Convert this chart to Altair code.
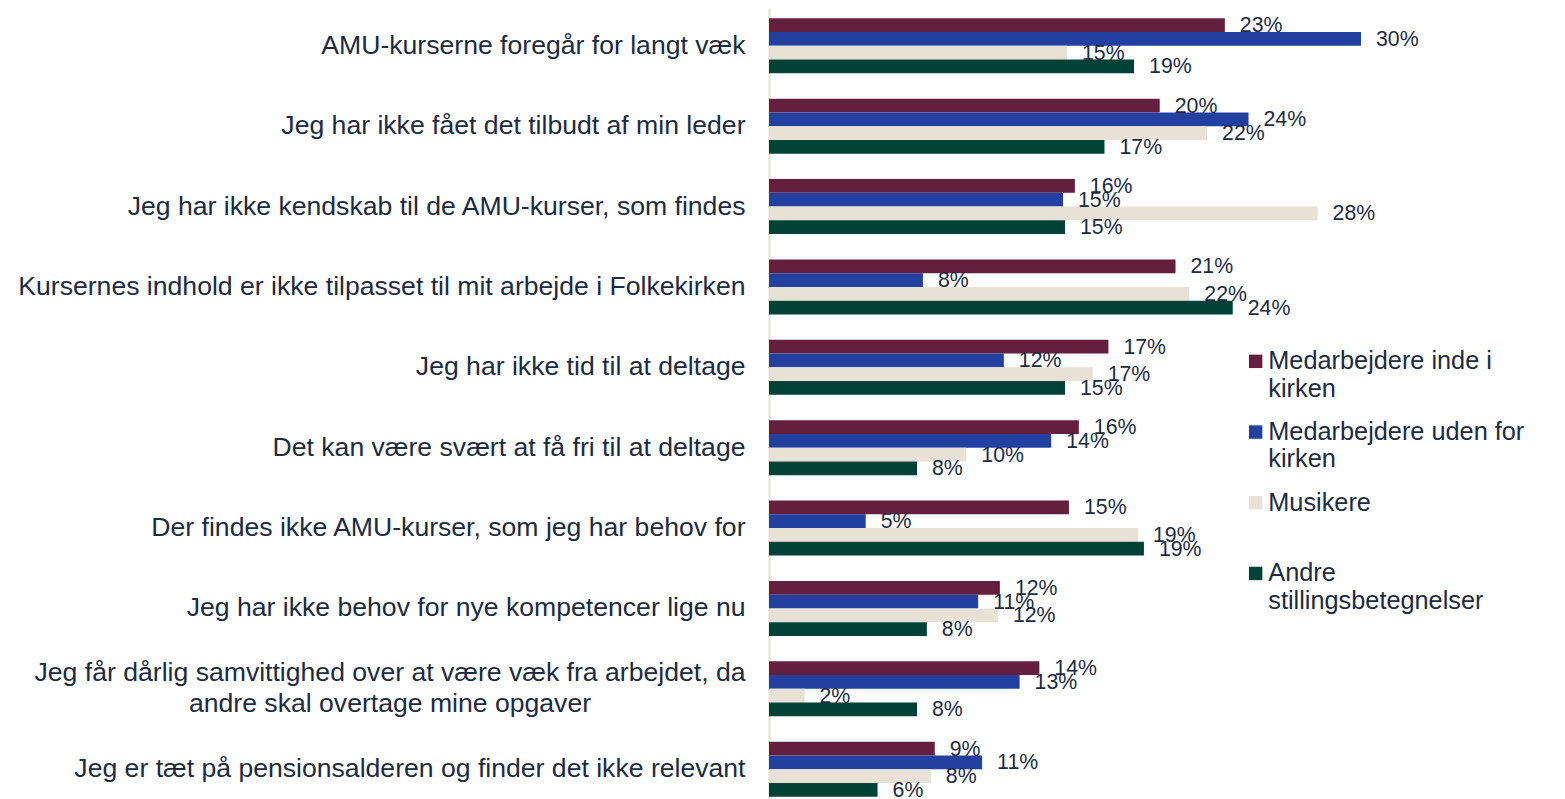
import altair as alt
import pandas as pd

categories = [
    "AMU-kurserne foregår for langt væk",
    "Jeg har ikke fået det tilbudt af min leder",
    "Jeg har ikke kendskab til de AMU-kurser, som findes",
    "Kursernes indhold er ikke tilpasset til mit arbejde i Folkekirken",
    "Jeg har ikke tid til at deltage",
    "Det kan være svært at få fri til at deltage",
    "Der findes ikke AMU-kurser, som jeg har behov for",
    "Jeg har ikke behov for nye kompetencer lige nu",
    "Jeg får dårlig samvittighed over at være væk fra arbejdet, da\nandre skal overtage mine opgaver",
    "Jeg er tæt på pensionsalderen og finder det ikke relevant",
]

series = [
    "Medarbejdere inde i\nkirken",
    "Medarbejdere uden for\nkirken",
    "Musikere",
    "Andre\nstillingsbetegnelser",
]
colors = ["#641F3C", "#233FA0", "#E8E1D6", "#004236"]

# bar lengths (percent)
inde_values = [23.1, 19.8, 15.5, 20.6, 17.2, 15.7, 15.2, 11.7, 13.7, 8.4]
uden_values = [30.0, 24.3, 14.9, 7.8, 11.9, 14.3, 4.9, 10.6, 12.7, 10.8]
musik_values = [15.1, 22.2, 27.8, 21.3, 16.4, 10.0, 18.7, 11.6, 1.8, 8.2]
andre_values = [18.5, 17.0, 15.0, 23.5, 15.0, 7.5, 19.0, 8.0, 7.5, 5.5]

# printed data labels
inde_labels = [23, 20, 16, 21, 17, 16, 15, 12, 14, 9]
uden_labels = [30, 24, 15, 8, 12, 14, 5, 11, 13, 11]
musik_labels = [15, 22, 28, 22, 17, 10, 19, 12, 2, 8]
andre_labels = [19, 17, 15, 24, 15, 8, 19, 8, 8, 6]

all_values = [inde_values, uden_values, musik_values, andre_values]
all_labels = [inde_labels, uden_labels, musik_labels, andre_labels]

rows = []
for i, cat in enumerate(categories):
    for j, s in enumerate(series):
        rows.append({
            "category": cat,
            "series": s,
            "value": all_values[j][i],
            "label": f"{all_labels[j][i]}%",
        })
df = pd.DataFrame(rows)

TEXT = "#1C2B40"
FONT = "Liberation Sans"

multiline_test = "indexof(datum.label, '\\n') >= 0"

y_enc = alt.Y(
    "category:N",
    sort=categories,
    title=None,
    scale=alt.Scale(paddingInner=0.316, paddingOuter=0.0784, align=0.82),
    axis=alt.Axis(
        labelExpr="split(datum.label, '\\n')",
        labelFont=FONT,
        labelFontSize=26.6,
        labelColor=TEXT,
        labelLimit=900,
        labelLineHeight=31,
        labelAlign={"condition": {"test": multiline_test, "value": "center"}, "value": "right"},
        labelPadding={"condition": {"test": multiline_test, "value": 379.5}, "value": 24},
        labelOffset={"condition": {"test": multiline_test, "value": -15.5}, "value": 0},
        labelBaseline="middle",
        ticks=False,
        domainColor="#E6DFD3",
        domainWidth=2,
        minExtent=761,
        maxExtent=761,
        grid=False,
    ),
)
yoff_enc = alt.YOffset("series:N", sort=series, scale=alt.Scale(paddingInner=0, paddingOuter=0))
x_enc = alt.X("value:Q", scale=alt.Scale(domain=[0, 39.02], nice=False, zero=True), axis=None)

bars = alt.Chart(df).mark_bar().encode(
    x=x_enc,
    y=y_enc,
    yOffset=yoff_enc,
    color=alt.Color(
        "series:N",
        sort=series,
        scale=alt.Scale(domain=series, range=colors),
        legend=alt.Legend(
            title=None,
            orient="none",
            legendX=474,
            legendY=340.7,
            symbolType="square",
            symbolSize=180,
            symbolStrokeWidth=0,
            labelFont=FONT,
            labelFontSize=25.3,
            labelColor=TEXT,
            labelLimit=600,
            labelOffset=0,
            labelBaseline="middle",
            labelExpr="split(datum.label, '\\n')",
            rowPadding=16.7,
            padding=0,
            gridAlign="all",
        ),
    ),
)

labels = alt.Chart(df).mark_text(
    align="left", baseline="middle", dx=15, dy=1, fontSize=21.3, font=FONT, color=TEXT
).encode(
    x=x_enc,
    y=alt.Y("category:N", sort=categories),
    yOffset=yoff_enc,
    text="label:N",
)

chart = (
    alt.layer(bars, labels)
    .properties(width=770, height=791, padding=0)
    .configure(font=FONT)
    .configure_view(stroke=None)
)

chart.save("out.html", embed_options={"renderer": "svg", "actions": False})
